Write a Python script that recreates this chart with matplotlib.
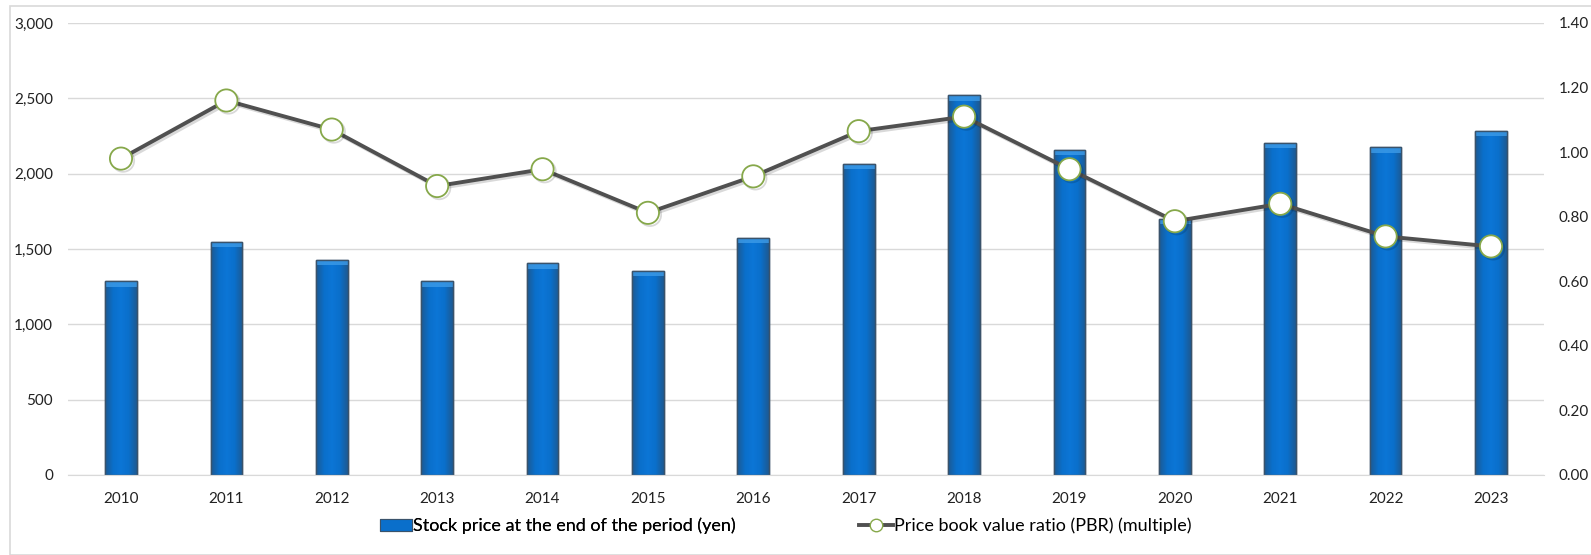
import matplotlib
matplotlib.use("Agg")
import numpy as np
import matplotlib.pyplot as plt
import matplotlib.patheffects as pe
from matplotlib.patches import Rectangle
from matplotlib.lines import Line2D
from matplotlib.colors import LinearSegmentedColormap
from matplotlib.ticker import FuncFormatter, MultipleLocator

years = ["2010", "2011", "2012", "2013", "2014", "2015", "2016",
         "2017", "2018", "2019", "2020", "2021", "2022", "2023"]
stock_price = [1285, 1545, 1430, 1285, 1405, 1355, 1575,
               2065, 2520, 2160, 1700, 2205, 2175, 2285]
pbr = [0.98, 1.16, 1.07, 0.895, 0.947, 0.812, 0.925,
       1.065, 1.11, 0.947, 0.786, 0.84, 0.739, 0.708]
bar_label = "Stock price at the end of the period (yen)"
line_label = "Price book value ratio (PBR) (multiple)"

plt.rcParams['font.family'] = ['Lato', 'DejaVu Sans']

W, H = 1591, 555
fig = plt.figure(figsize=(W / 100, H / 100), dpi=100)
fig.patches.append(Rectangle((10 / W, 0), 1.2, 1 - 6 / H, transform=fig.transFigure,
                             fill=False, edgecolor="#d9d9d9", linewidth=1.2))

ax = fig.add_axes([68.3 / W, 1 - 475 / H, (1543.7 - 68.3) / W, (475 - 23) / H])
x = np.arange(len(years))
bars = ax.bar(x, stock_price, width=0.30, color="#0a6fcb", edgecolor="#3a536b",
              linewidth=1.0, zorder=2)

# horizontal gradient fill inside each bar
cmap = LinearSegmentedColormap.from_list("bar", ["#1d5a93", "#0a6fcb", "#0c76d6", "#0a6fcb", "#1d5a93"])
grad = np.linspace(0, 1, 64).reshape(1, -1)
for b in bars:
    x0, y0 = b.get_x(), b.get_y()
    w, h = b.get_width(), b.get_height()
    im = ax.imshow(grad, cmap=cmap, aspect="auto", extent=(x0, x0 + w, y0, y0 + h),
                   zorder=2.1, interpolation="bilinear")
    im.set_clip_path(b)
    cap = Rectangle((x0, y0 + h - 35), w, 35, facecolor="#3d9be8", edgecolor="none",
                    zorder=2.2, alpha=0.8)
    ax.add_patch(cap)
    cap.set_clip_path(b)
    edge = Rectangle((x0, y0), w, h, facecolor="none", edgecolor="#3a536b",
                     linewidth=1.0, zorder=2.3)
    ax.add_patch(edge)
ax.set_xlim(-0.5, len(years) - 0.5)
ax.set_ylim(0, 3000)

ax.yaxis.set_major_locator(MultipleLocator(500))
ax.yaxis.set_major_formatter(FuncFormatter(lambda v, p: f"{int(v):,}"))
ax.set_xticks(x)
ax.set_xticklabels(years)
ax.grid(axis="y", color="#d9d9d9", linewidth=1.0, zorder=0)
ax.set_axisbelow(True)
for s in ax.spines.values():
    s.set_visible(False)
ax.spines["bottom"].set_visible(True)
ax.spines["bottom"].set_color("#d9d9d9")
ax.tick_params(axis="both", length=0, labelsize=11, colors="#222222")
ax.tick_params(axis="y", pad=11)
ax.tick_params(axis="x", pad=12)

ax2 = ax.twinx()
ax2.set_ylim(0, 1.4)
ax2.yaxis.set_major_locator(MultipleLocator(0.2))
ax2.yaxis.set_major_formatter(FuncFormatter(lambda v, p: f"{v:.2f}"))
for s in ax2.spines.values():
    s.set_visible(False)
ax2.tick_params(axis="y", length=0, labelsize=11, colors="#222222", pad=11)
ax2.plot(x, pbr, color="#505050", linewidth=2.8, marker="o", markersize=16,
         markerfacecolor="white", markeredgecolor="#86a84a", markeredgewidth=1.3,
         zorder=3,
         path_effects=[pe.SimpleLineShadow(offset=(1.5, -1.5), alpha=0.15), pe.Normal()])

fs = 13
h1 = Rectangle((0, 0), 1, 1, facecolor="#0a6fcb", edgecolor="#3a536b", linewidth=0.8)
h2 = Line2D([0], [0], color="#505050", linewidth=2.8, marker="o", markersize=9,
            markerfacecolor="white", markeredgecolor="#86a84a")
leg1 = fig.legend([h1], [bar_label], loc="center left", bbox_to_anchor=(380 / W, 1 - 526 / H),
                  frameon=False, fontsize=fs, handlelength=1.77, handletextpad=0.05,
                  handleheight=0.66, borderpad=0, borderaxespad=0)
leg2 = fig.legend([h2], [line_label], loc="center left", bbox_to_anchor=(859 / W, 1 - 526 / H),
                  frameon=False, fontsize=fs, handlelength=1.88, handletextpad=0.05,
                  borderpad=0, borderaxespad=0)
fig.add_artist(leg1)

fig.savefig("out.png", dpi=100)
